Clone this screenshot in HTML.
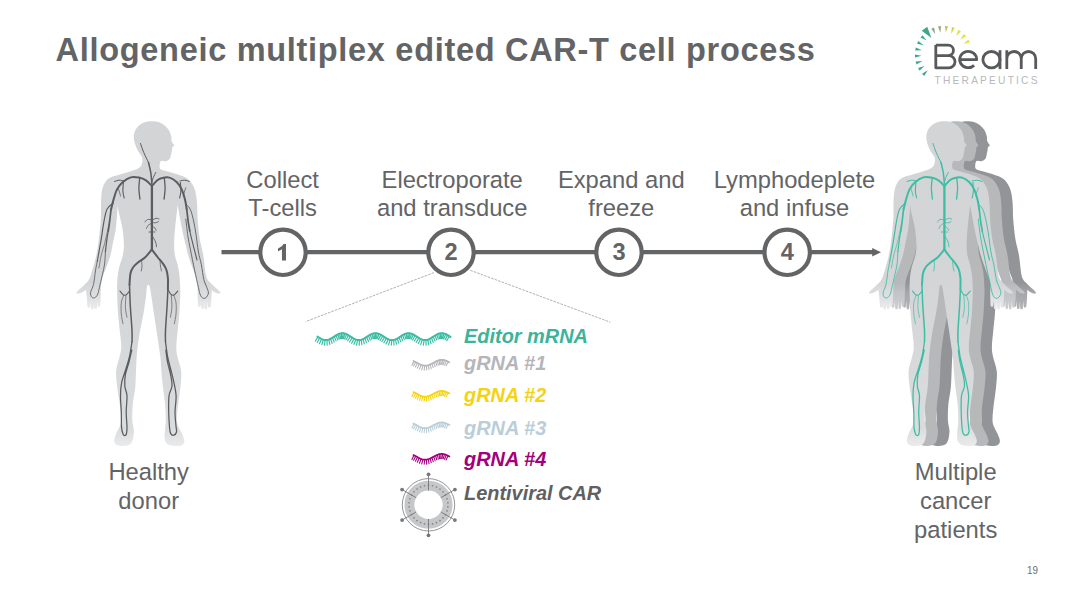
<!DOCTYPE html>
<html><head><meta charset="utf-8"><title>Allogeneic multiplex edited CAR-T cell process</title>
<style>
html,body{margin:0;padding:0;background:#fff}
#slide{position:relative;width:1088px;height:612px;overflow:hidden;background:#fff;font-family:"Liberation Sans",sans-serif;color:#636466}
.t{position:absolute;white-space:nowrap;line-height:1}
.c{position:absolute;text-align:center;font-size:23.75px;line-height:28.4px;white-space:nowrap;transform:translateX(-50%)}
.n{position:absolute;font-weight:bold;font-size:23.6px;line-height:1;transform:translateX(-50%);top:241.4px}
.r{position:absolute;left:464.1px;font-weight:bold;font-style:italic;font-size:19.9px;line-height:1;white-space:nowrap}
</style></head><body>
<div id="slide">
<svg width="1088" height="612" viewBox="0 0 1088 612" style="position:absolute;left:0;top:0"><defs><path id="body" d="M174.30,145.30C173.97,145.67 172.68,146.67 172.30,147.50C171.92,148.33 172.17,149.30 172.00,150.30C171.83,151.30 171.67,152.08 171.30,153.50C170.93,154.92 170.68,157.52 169.80,158.80C168.92,160.08 167.47,160.83 166.00,161.20C164.53,161.57 162.07,160.28 161.00,161.00C159.93,161.72 159.63,164.12 159.60,165.50C159.57,166.88 159.40,168.30 160.80,169.30C162.20,170.30 165.13,170.63 168.00,171.50C170.87,172.37 175.25,173.58 178.00,174.50C180.75,175.42 182.53,175.95 184.50,177.00C186.47,178.05 188.08,178.70 189.80,180.80C191.52,182.90 193.60,185.95 194.80,189.60C196.00,193.25 196.53,197.80 197.00,202.70C197.47,207.60 197.15,213.02 197.60,219.00C198.05,224.98 198.75,232.60 199.70,238.60C200.65,244.60 202.28,249.00 203.30,255.00C204.32,261.00 204.95,270.30 205.80,274.60C206.65,278.90 207.55,279.37 208.40,280.80C209.25,282.23 209.98,282.30 210.90,283.20C211.82,284.10 212.98,285.30 213.90,286.20C214.82,287.10 215.57,287.83 216.40,288.60C217.23,289.37 218.20,290.08 218.90,290.80C219.60,291.52 220.32,292.55 220.60,292.90C220.15,293.02 218.85,293.70 217.90,293.60C216.95,293.50 215.92,292.93 214.90,292.30C213.88,291.67 212.32,290.22 211.80,289.80C211.73,291.17 211.47,296.63 211.40,298.00C211.28,299.40 210.82,305.00 210.70,306.40C210.58,306.58 210.12,307.32 210.00,307.50C209.78,307.50 208.92,307.50 208.70,307.50C208.60,307.32 208.20,306.58 208.10,306.40C208.02,305.43 207.68,301.57 207.60,300.60C207.53,301.87 207.27,306.93 207.20,308.20C207.10,308.38 206.70,309.12 206.60,309.30C206.40,309.30 205.60,309.30 205.40,309.30C205.30,309.12 204.90,308.38 204.80,308.20C204.72,306.97 204.38,302.03 204.30,300.80C204.22,302.00 203.88,306.80 203.80,308.00C203.70,308.17 203.30,308.83 203.20,309.00C203.00,309.00 202.20,309.00 202.00,309.00C201.90,308.80 201.50,308.00 201.40,307.80C201.33,306.60 201.07,301.80 201.00,300.60C200.92,301.47 200.58,304.93 200.50,305.80C200.40,305.97 200.00,306.63 199.90,306.80C199.73,306.80 199.07,306.80 198.90,306.80C198.78,306.60 198.32,305.80 198.20,305.60C198.12,304.00 197.78,297.60 197.70,296.00C197.67,293.75 197.95,286.07 197.50,282.50C197.05,278.93 196.00,277.52 195.00,274.60C194.00,271.68 192.65,268.27 191.50,265.00C190.35,261.73 188.98,258.00 188.10,255.00C187.22,252.00 186.98,250.27 186.20,247.00C185.42,243.73 184.42,240.07 183.40,235.40C182.38,230.73 181.05,224.05 180.10,219.00C179.15,213.95 178.10,207.42 177.70,205.10C177.28,208.78 175.80,220.80 175.20,227.20C174.60,233.60 174.15,238.87 174.10,243.50C174.05,248.13 174.32,251.45 174.90,255.00C175.48,258.55 176.85,261.47 177.60,264.80C178.35,268.13 178.95,270.80 179.40,275.00C179.85,279.20 180.20,285.83 180.30,290.00C180.40,294.17 180.17,296.00 180.00,300.00C179.83,304.00 179.68,308.93 179.30,314.00C178.92,319.07 178.20,324.95 177.70,330.40C177.20,335.85 176.33,342.27 176.30,346.70C176.27,351.13 176.68,352.90 177.50,357.00C178.32,361.10 180.72,366.18 181.20,371.30C181.68,376.42 180.90,382.25 180.40,387.70C179.90,393.15 178.78,398.55 178.20,404.00C177.62,409.45 176.77,416.40 176.90,420.40C177.03,424.40 178.15,425.73 179.00,428.00C179.85,430.27 181.12,431.87 182.00,434.00C182.88,436.13 184.22,439.00 184.30,440.80C184.38,442.60 183.47,443.95 182.50,444.80C181.53,445.65 180.52,445.83 178.50,445.90C176.48,445.97 172.48,445.77 170.40,445.20C168.32,444.63 166.97,443.92 166.00,442.50C165.03,441.08 164.75,439.03 164.60,436.70C164.45,434.37 164.90,431.22 165.10,428.50C165.30,425.78 165.80,424.48 165.80,420.40C165.80,416.32 165.57,409.45 165.10,404.00C164.63,398.55 163.62,393.15 163.00,387.70C162.38,382.25 161.82,376.25 161.40,371.30C160.98,366.35 160.92,362.10 160.50,358.00C160.08,353.90 159.57,351.30 158.90,346.70C158.23,342.10 157.32,335.85 156.50,330.40C155.68,324.95 154.82,319.45 154.00,314.00C153.18,308.55 152.30,302.20 151.60,297.70C150.90,293.20 150.35,289.22 149.80,287.00C149.25,284.78 148.55,284.83 148.30,284.40C148.07,284.83 147.31,284.78 146.90,287.00C146.49,289.22 146.43,293.20 145.85,297.70C145.27,302.20 144.36,308.55 143.40,314.00C142.44,319.45 141.05,324.95 140.10,330.40C139.15,335.85 138.28,342.10 137.70,346.70C137.12,351.30 136.88,353.90 136.60,358.00C136.32,362.10 136.23,366.35 136.00,371.30C135.77,376.25 135.73,382.25 135.20,387.70C134.67,393.15 133.28,398.62 132.80,404.00C132.32,409.38 132.13,415.67 132.30,420.00C132.47,424.33 133.63,427.17 133.80,430.00C133.97,432.83 133.68,434.92 133.30,437.00C132.92,439.08 132.40,441.13 131.50,442.50C130.60,443.87 129.60,444.63 127.90,445.20C126.20,445.77 123.20,445.97 121.30,445.90C119.40,445.83 117.67,445.65 116.50,444.80C115.33,443.95 114.38,442.60 114.30,440.80C114.22,439.00 115.22,436.13 116.00,434.00C116.78,431.87 118.12,430.27 119.00,428.00C119.88,425.73 121.18,424.40 121.30,420.40C121.42,416.40 120.38,409.45 119.70,404.00C119.03,398.55 117.85,393.15 117.25,387.70C116.65,382.25 115.72,376.42 116.10,371.30C116.47,366.18 118.63,361.10 119.50,357.00C120.37,352.90 121.27,351.13 121.30,346.70C121.33,342.27 120.23,335.85 119.70,330.40C119.17,324.95 118.51,319.45 118.10,314.00C117.69,308.55 117.39,303.15 117.25,297.70C117.11,292.25 116.96,286.25 117.25,281.30C117.54,276.35 118.06,272.38 119.00,268.00C119.94,263.62 122.08,259.08 122.90,255.00C123.72,250.92 124.01,248.13 123.90,243.50C123.79,238.87 123.15,232.62 122.25,227.20C121.35,221.78 119.26,214.70 118.50,211.00C117.74,207.30 117.83,206.00 117.70,205.00C117.42,208.70 116.82,220.78 116.00,227.20C115.18,233.62 113.72,238.87 112.80,243.50C111.88,248.13 111.50,251.25 110.50,255.00C109.50,258.75 107.97,262.73 106.80,266.00C105.63,269.27 104.42,271.85 103.50,274.60C102.58,277.35 101.78,278.93 101.30,282.50C100.82,286.07 100.72,293.75 100.60,296.00C100.52,297.60 100.18,304.00 100.10,305.60C99.98,305.80 99.52,306.60 99.40,306.80C99.23,306.80 98.57,306.80 98.40,306.80C98.30,306.63 97.90,305.97 97.80,305.80C97.72,304.93 97.38,301.47 97.30,300.60C97.23,301.80 96.97,306.60 96.90,307.80C96.80,308.00 96.40,308.80 96.30,309.00C96.10,309.00 95.30,309.00 95.10,309.00C95.00,308.83 94.60,308.17 94.50,308.00C94.42,306.80 94.08,302.00 94.00,300.80C93.92,302.03 93.58,306.97 93.50,308.20C93.40,308.38 93.00,309.12 92.90,309.30C92.70,309.30 91.90,309.30 91.70,309.30C91.60,309.12 91.20,308.38 91.10,308.20C91.03,306.93 90.77,301.87 90.70,300.60C90.62,301.57 90.28,305.43 90.20,306.40C90.10,306.58 89.70,307.32 89.60,307.50C89.38,307.50 88.52,307.50 88.30,307.50C88.18,307.32 87.72,306.58 87.60,306.40C87.48,305.00 87.02,299.40 86.90,298.00C86.75,296.63 86.15,291.17 86.00,289.80C85.33,290.22 83.17,291.67 82.00,292.30C80.83,292.93 79.95,293.50 79.00,293.60C78.05,293.70 76.75,293.02 76.30,292.90C76.58,292.55 77.30,291.52 78.00,290.80C78.70,290.08 79.67,289.37 80.50,288.60C81.33,287.83 82.08,287.10 83.00,286.20C83.92,285.30 85.12,284.10 86.00,283.20C86.88,282.30 87.47,282.23 88.30,280.80C89.13,279.37 89.65,278.90 91.00,274.60C92.35,270.30 95.08,261.00 96.40,255.00C97.72,249.00 98.16,244.60 98.90,238.60C99.64,232.60 100.50,224.98 100.85,219.00C101.20,213.02 100.78,207.60 101.00,202.70C101.22,197.80 101.33,193.25 102.20,189.60C103.07,185.95 104.65,182.90 106.20,180.80C107.75,178.70 109.20,178.05 111.50,177.00C113.80,175.95 116.92,175.42 120.00,174.50C123.08,173.58 127.17,172.42 130.00,171.50C132.83,170.58 135.12,170.00 137.00,169.00C138.88,168.00 140.42,167.33 141.30,165.50C142.18,163.67 142.85,160.42 142.30,158.00C141.75,155.58 139.22,153.33 138.00,151.00C136.78,148.67 135.70,146.25 135.00,144.00C134.30,141.75 133.80,139.67 133.80,137.50C133.80,135.33 134.22,132.92 135.00,131.00C135.78,129.08 137.00,127.42 138.50,126.00C140.00,124.58 141.83,123.30 144.00,122.50C146.17,121.70 149.00,121.23 151.50,121.20C154.00,121.17 156.75,121.53 159.00,122.30C161.25,123.07 163.28,124.35 165.00,125.80C166.72,127.25 168.25,129.13 169.30,131.00C170.35,132.87 170.92,135.33 171.30,137.00C171.68,138.67 171.10,139.62 171.60,141.00C172.10,142.38 173.85,144.58 174.30,145.30Z"/><clipPath id="bc"><use href="#body"/></clipPath><linearGradient id="bg" x1="0" y1="0" x2="0" y2="1"><stop offset="0" stop-color="#d3d4d6"/><stop offset="0.5" stop-color="#d4d5d7"/><stop offset="1" stop-color="#dcddde"/></linearGradient><linearGradient id="hg" x1="0" y1="0" x2="0" y2="1"><stop offset="0" stop-color="#fff" stop-opacity="0"/><stop offset="0.4" stop-color="#fff" stop-opacity="0.18"/><stop offset="1" stop-color="#fff" stop-opacity="0.5"/></linearGradient><linearGradient id="hg2" x1="0" y1="0" x2="0" y2="1"><stop offset="0" stop-color="#fff" stop-opacity="0"/><stop offset="0.35" stop-color="#fff" stop-opacity="0.18"/><stop offset="1" stop-color="#fff" stop-opacity="0.3"/></linearGradient><linearGradient id="fg" x1="0" y1="0" x2="0" y2="1"><stop offset="0" stop-color="#fff" stop-opacity="0"/><stop offset="1" stop-color="#fff" stop-opacity="0.45"/></linearGradient></defs><g clip-path="url(#bc)"><rect x="70" y="115" width="160" height="340" fill="url(#bg)"/><rect x="70" y="282" width="36" height="29" fill="url(#hg)"/><rect x="192" y="282" width="36" height="29" fill="url(#hg)"/><rect x="105" y="428" width="90" height="20" fill="url(#fg)"/></g><g fill="none" stroke="#5b5c5f" stroke-linecap="round" stroke-linejoin="round"><path d="M140.50,143.50C141.04,145.00 142.42,149.33 143.75,152.50C145.08,155.67 147.71,160.83 148.50,162.50" stroke-width="1.0"/><path d="M148.50,162.50C148.88,164.17 150.18,168.92 150.75,172.50C151.32,176.08 151.71,182.08 151.90,184.00" stroke-width="1.5"/><path d="M151.90,182.50C152.13,181.67 152.65,179.17 153.30,177.50C153.95,175.83 155.38,173.33 155.80,172.50" stroke-width="1.0"/><path d="M151.90,187.00C151.90,197.50 151.90,239.50 151.90,250.00" stroke-width="2.3"/><path d="M151.90,186.00C150.92,185.05 148.17,181.70 146.00,180.30C143.83,178.90 141.44,178.09 138.90,177.60C136.36,177.11 133.47,176.57 130.75,177.35C128.03,178.12 124.91,180.21 122.60,182.25C120.29,184.29 118.40,186.74 116.90,189.60C115.40,192.46 114.57,196.13 113.60,199.40C112.63,202.67 111.52,207.57 111.10,209.20" stroke-width="2.0"/><path d="M111.10,209.20C110.83,211.38 109.97,218.67 109.50,222.30C109.03,225.93 108.50,229.55 108.30,231.00" stroke-width="1.7"/><path d="M108.30,231.00C108.08,232.27 107.48,235.15 107.00,238.60C106.52,242.05 105.67,249.52 105.40,251.70" stroke-width="1.2"/><path d="M105.40,251.70C105.27,253.75 105.10,260.18 104.60,264.00C104.10,267.82 103.27,270.70 102.40,274.60C101.53,278.50 100.17,284.17 99.40,287.40C98.63,290.63 98.53,292.30 97.80,294.00C97.07,295.70 96.00,297.07 95.00,297.60C94.00,298.13 92.53,298.05 91.80,297.20C91.07,296.35 90.32,294.63 90.60,292.50C90.88,290.37 92.67,288.15 93.50,284.40C94.33,280.65 94.97,273.82 95.60,270.00C96.22,266.18 96.97,262.92 97.25,261.50" stroke-width="0.85"/><path d="M97.25,261.50C97.92,257.68 100.21,245.13 101.30,238.60C102.39,232.07 102.85,227.20 103.80,222.30C104.75,217.40 105.43,212.42 107.00,209.20C108.57,205.98 112.17,204.03 113.20,203.00" stroke-width="1.15"/><path d="M109.50,222.30C108.68,225.83 105.97,238.05 104.60,243.50C103.23,248.95 102.25,250.92 101.30,255.00C100.35,259.08 99.30,265.83 98.90,268.00" stroke-width="0.7"/><path d="M151.90,186.00C152.75,185.07 155.43,181.70 157.00,180.40C158.57,179.10 159.22,178.67 161.30,178.20C163.38,177.73 166.90,176.92 169.50,177.60C172.10,178.28 174.85,180.25 176.90,182.25C178.95,184.25 180.45,186.74 181.80,189.60C183.15,192.46 184.18,196.13 185.00,199.40C185.82,202.67 186.42,207.57 186.70,209.20" stroke-width="2.0"/><path d="M186.70,209.20C186.97,211.38 187.78,218.67 188.30,222.30C188.82,225.93 189.55,229.55 189.80,231.00" stroke-width="1.7"/><path d="M189.80,231.00C189.96,231.73 190.05,232.50 190.75,235.40C191.45,238.30 192.96,244.30 194.00,248.40C195.04,252.50 196.50,258.07 197.00,260.00" stroke-width="1.1"/><path d="M185.80,219.00C186.13,221.73 187.02,230.23 187.80,235.40C188.58,240.57 189.38,244.28 190.50,250.00C191.62,255.72 193.18,263.47 194.50,269.70C195.82,275.93 197.48,283.35 198.40,287.40C199.32,291.45 199.33,292.27 200.00,294.00C200.67,295.73 201.43,297.17 202.40,297.80C203.37,298.43 204.80,298.60 205.80,297.80C206.80,297.00 208.23,294.73 208.40,293.00C208.57,291.27 207.57,289.65 206.80,287.40C206.03,285.15 204.70,283.27 203.80,279.50C202.90,275.73 202.30,269.38 201.40,264.80C200.50,260.22 199.36,257.47 198.40,252.00C197.44,246.53 196.65,238.04 195.65,232.00C194.65,225.96 193.43,219.75 192.40,215.75C191.38,211.75 190.60,209.91 189.50,208.00C188.40,206.09 186.42,204.92 185.80,204.30" stroke-width="0.9"/><path d="M139.70,178.00C139.57,179.67 138.87,184.50 138.90,188.00C138.93,191.50 139.73,197.17 139.90,199.00" stroke-width="1.3"/><path d="M123.40,182.50C123.32,183.95 122.77,188.62 122.90,191.20C123.03,193.78 123.98,196.87 124.20,198.00" stroke-width="1.1"/><path d="M124.00,181.00C123.17,180.87 120.58,180.12 119.00,180.20C117.42,180.28 115.25,181.28 114.50,181.50" stroke-width="1.0"/><path d="M118.00,187.80C118.25,188.50 119.08,190.63 119.50,192.00C119.92,193.37 120.33,195.33 120.50,196.00" stroke-width="0.8"/><path d="M164.30,178.00C164.43,179.67 165.13,184.50 165.10,188.00C165.07,191.50 164.27,197.17 164.10,199.00" stroke-width="1.3"/><path d="M180.40,182.50C180.48,183.95 181.03,188.62 180.90,191.20C180.77,193.78 179.82,196.87 179.60,198.00" stroke-width="1.1"/><path d="M179.80,181.00C180.63,180.87 183.22,180.12 184.80,180.20C186.38,180.28 188.55,181.28 189.30,181.50" stroke-width="1.0"/><path d="M185.80,187.80C185.55,188.50 184.72,190.63 184.30,192.00C183.88,193.37 183.47,195.33 183.30,196.00" stroke-width="0.8"/><path d="M151.90,220.00C151.17,219.92 148.65,219.17 147.50,219.50C146.35,219.83 145.42,221.58 145.00,222.00" stroke-width="0.9"/><path d="M151.90,223.00C151.25,223.42 148.90,224.58 148.00,225.50C147.10,226.42 146.75,228.00 146.50,228.50" stroke-width="0.8"/><path d="M151.90,220.50C152.58,220.13 154.82,218.55 156.00,218.30C157.18,218.05 158.50,218.88 159.00,219.00" stroke-width="0.9"/><path d="M151.90,222.50C152.58,222.55 154.90,222.97 156.00,222.80C157.10,222.63 158.08,221.72 158.50,221.50" stroke-width="0.8"/><path d="M149.00,232.00C149.97,232.00 153.83,232.00 154.80,232.00" stroke-width="0.9"/><path d="M151.90,235.40C152.52,236.50 154.85,240.10 155.60,242.00C156.35,243.90 156.27,246.00 156.40,246.80" stroke-width="0.9"/><path d="M151.90,226.00C152.42,226.33 154.32,227.25 155.00,228.00C155.68,228.75 155.83,230.08 156.00,230.50" stroke-width="0.8"/><path d="M151.90,249.50C150.75,250.83 147.32,255.33 145.00,257.50C142.68,259.67 139.92,260.95 138.00,262.50C136.08,264.05 134.75,265.02 133.50,266.80C132.25,268.58 131.17,270.23 130.50,273.20C129.83,276.17 129.67,282.70 129.50,284.60" stroke-width="2.0"/><path d="M129.50,284.60C129.63,288.13 129.88,298.17 130.30,305.80C130.72,313.43 131.72,324.40 132.00,330.40C132.28,336.40 132.00,339.90 132.00,341.80" stroke-width="1.5"/><path d="M132.00,341.80C131.58,344.25 130.47,352.13 129.50,356.50C128.53,360.87 127.52,363.62 126.20,368.00C124.88,372.38 122.55,378.17 121.60,382.80C120.65,387.43 120.55,390.90 120.50,395.80C120.45,400.70 121.13,407.02 121.30,412.20C121.47,417.38 121.22,423.27 121.50,426.90C121.78,430.53 122.45,432.55 123.00,434.00C123.55,435.45 124.23,435.60 124.80,435.60C125.37,435.60 126.03,435.43 126.40,434.00C126.77,432.57 127.03,430.67 127.00,427.00C126.97,423.33 126.20,417.20 126.20,412.00C126.20,406.80 127.23,400.13 127.00,395.80C126.77,391.47 125.07,389.53 124.80,386.00C124.53,382.47 124.70,378.60 125.40,374.60C126.10,370.60 127.93,366.10 129.00,362.00C130.07,357.90 131.33,352.00 131.80,350.00" stroke-width="1.25"/><path d="M151.90,249.50C152.83,250.75 155.73,254.75 157.50,257.00C159.27,259.25 161.03,260.92 162.50,263.00C163.97,265.08 165.40,267.00 166.30,269.50C167.20,272.00 167.63,274.75 167.90,278.00C168.17,281.25 167.90,287.17 167.90,289.00" stroke-width="2.0"/><path d="M167.90,289.00C167.77,291.80 167.50,298.90 167.10,305.80C166.70,312.70 165.77,324.40 165.50,330.40C165.23,336.40 165.50,339.90 165.50,341.80" stroke-width="1.5"/><path d="M165.50,341.80C165.83,344.17 166.68,351.63 167.50,356.00C168.32,360.37 169.38,363.82 170.40,368.00C171.42,372.18 172.65,376.47 173.60,381.10C174.55,385.73 175.87,390.62 176.10,395.80C176.33,400.98 175.02,407.17 175.00,412.20C174.98,417.23 175.75,422.70 176.00,426.00C176.25,429.30 176.87,430.47 176.50,432.00C176.13,433.53 174.78,434.97 173.80,435.20C172.82,435.43 171.32,434.78 170.60,433.40C169.88,432.02 169.82,430.43 169.50,426.90C169.18,423.37 168.78,417.38 168.70,412.20C168.62,407.02 168.45,400.17 169.00,395.80C169.55,391.43 171.73,389.53 172.00,386.00C172.27,382.47 171.35,378.60 170.60,374.60C169.85,370.60 168.30,366.10 167.50,362.00C166.70,357.90 166.08,352.00 165.80,350.00" stroke-width="1.25"/><path d="M129.50,291.00C129.00,291.60 127.50,293.93 126.50,294.60C125.50,295.27 124.60,295.60 123.50,295.00C122.40,294.40 120.50,291.67 119.90,291.00" stroke-width="1.1"/><path d="M123.80,295.20C123.38,296.43 121.72,299.47 121.30,302.60C120.88,305.73 121.02,310.47 121.30,314.00C121.58,317.53 122.72,322.17 123.00,323.80" stroke-width="0.7"/><path d="M126.00,295.00C125.90,297.08 125.23,303.78 125.40,307.50C125.57,311.22 126.73,315.67 127.00,317.30" stroke-width="0.7"/><path d="M167.90,289.50C168.33,290.22 169.55,292.85 170.50,293.80C171.45,294.75 172.40,295.65 173.60,295.20C174.80,294.75 177.02,291.78 177.70,291.10" stroke-width="1.1"/><path d="M173.60,295.20C174.00,296.43 175.60,299.47 176.00,302.60C176.40,305.73 176.28,310.47 176.00,314.00C175.72,317.53 174.58,322.17 174.30,323.80" stroke-width="0.7"/><path d="M171.30,295.00C171.40,297.08 172.07,303.78 171.90,307.50C171.73,311.22 170.57,315.67 170.30,317.30" stroke-width="0.7"/><path d="M141.50,260.50C141.58,261.42 142.05,264.25 142.00,266.00C141.95,267.75 141.33,270.17 141.20,271.00" stroke-width="0.8"/><path d="M160.00,260.00C160.08,261.00 160.25,264.17 160.50,266.00C160.75,267.83 161.33,270.17 161.50,271.00" stroke-width="0.8"/></g><g transform="translate(792.5,0)"><g transform="translate(23.1,0)" clip-path="url(#bc)"><rect x="70" y="115" width="160" height="340" fill="#929497"/><rect x="70" y="283" width="36" height="28" fill="url(#hg2)"/><rect x="192" y="283" width="36" height="28" fill="url(#hg2)"/></g><g transform="translate(11.7,0)" clip-path="url(#bc)"><rect x="70" y="115" width="160" height="340" fill="#b6b8ba"/><rect x="70" y="283" width="36" height="28" fill="url(#hg2)"/><rect x="192" y="283" width="36" height="28" fill="url(#hg2)"/></g><g clip-path="url(#bc)"><rect x="70" y="115" width="160" height="340" fill="url(#bg)"/><rect x="70" y="282" width="36" height="29" fill="url(#hg)"/><rect x="192" y="282" width="36" height="29" fill="url(#hg)"/><rect x="105" y="428" width="90" height="20" fill="url(#fg)"/></g><g fill="none" stroke="#3dbda4" stroke-linecap="round" stroke-linejoin="round"><path d="M140.50,143.50C141.04,145.00 142.42,149.33 143.75,152.50C145.08,155.67 147.71,160.83 148.50,162.50" stroke-width="1.0"/><path d="M148.50,162.50C148.88,164.17 150.18,168.92 150.75,172.50C151.32,176.08 151.71,182.08 151.90,184.00" stroke-width="1.5"/><path d="M151.90,182.50C152.13,181.67 152.65,179.17 153.30,177.50C153.95,175.83 155.38,173.33 155.80,172.50" stroke-width="1.0"/><path d="M151.90,187.00C151.90,197.50 151.90,239.50 151.90,250.00" stroke-width="2.3"/><path d="M151.90,186.00C150.92,185.05 148.17,181.70 146.00,180.30C143.83,178.90 141.44,178.09 138.90,177.60C136.36,177.11 133.47,176.57 130.75,177.35C128.03,178.12 124.91,180.21 122.60,182.25C120.29,184.29 118.40,186.74 116.90,189.60C115.40,192.46 114.57,196.13 113.60,199.40C112.63,202.67 111.52,207.57 111.10,209.20" stroke-width="2.0"/><path d="M111.10,209.20C110.83,211.38 109.97,218.67 109.50,222.30C109.03,225.93 108.50,229.55 108.30,231.00" stroke-width="1.7"/><path d="M108.30,231.00C108.08,232.27 107.48,235.15 107.00,238.60C106.52,242.05 105.67,249.52 105.40,251.70" stroke-width="1.2"/><path d="M105.40,251.70C105.27,253.75 105.10,260.18 104.60,264.00C104.10,267.82 103.27,270.70 102.40,274.60C101.53,278.50 100.17,284.17 99.40,287.40C98.63,290.63 98.53,292.30 97.80,294.00C97.07,295.70 96.00,297.07 95.00,297.60C94.00,298.13 92.53,298.05 91.80,297.20C91.07,296.35 90.32,294.63 90.60,292.50C90.88,290.37 92.67,288.15 93.50,284.40C94.33,280.65 94.97,273.82 95.60,270.00C96.22,266.18 96.97,262.92 97.25,261.50" stroke-width="0.85"/><path d="M97.25,261.50C97.92,257.68 100.21,245.13 101.30,238.60C102.39,232.07 102.85,227.20 103.80,222.30C104.75,217.40 105.43,212.42 107.00,209.20C108.57,205.98 112.17,204.03 113.20,203.00" stroke-width="1.15"/><path d="M109.50,222.30C108.68,225.83 105.97,238.05 104.60,243.50C103.23,248.95 102.25,250.92 101.30,255.00C100.35,259.08 99.30,265.83 98.90,268.00" stroke-width="0.7"/><path d="M151.90,186.00C152.75,185.07 155.43,181.70 157.00,180.40C158.57,179.10 159.22,178.67 161.30,178.20C163.38,177.73 166.90,176.92 169.50,177.60C172.10,178.28 174.85,180.25 176.90,182.25C178.95,184.25 180.45,186.74 181.80,189.60C183.15,192.46 184.18,196.13 185.00,199.40C185.82,202.67 186.42,207.57 186.70,209.20" stroke-width="2.0"/><path d="M186.70,209.20C186.97,211.38 187.78,218.67 188.30,222.30C188.82,225.93 189.55,229.55 189.80,231.00" stroke-width="1.7"/><path d="M189.80,231.00C189.96,231.73 190.05,232.50 190.75,235.40C191.45,238.30 192.96,244.30 194.00,248.40C195.04,252.50 196.50,258.07 197.00,260.00" stroke-width="1.1"/><path d="M185.80,219.00C186.13,221.73 187.02,230.23 187.80,235.40C188.58,240.57 189.38,244.28 190.50,250.00C191.62,255.72 193.18,263.47 194.50,269.70C195.82,275.93 197.48,283.35 198.40,287.40C199.32,291.45 199.33,292.27 200.00,294.00C200.67,295.73 201.43,297.17 202.40,297.80C203.37,298.43 204.80,298.60 205.80,297.80C206.80,297.00 208.23,294.73 208.40,293.00C208.57,291.27 207.57,289.65 206.80,287.40C206.03,285.15 204.70,283.27 203.80,279.50C202.90,275.73 202.30,269.38 201.40,264.80C200.50,260.22 199.36,257.47 198.40,252.00C197.44,246.53 196.65,238.04 195.65,232.00C194.65,225.96 193.43,219.75 192.40,215.75C191.38,211.75 190.60,209.91 189.50,208.00C188.40,206.09 186.42,204.92 185.80,204.30" stroke-width="0.9"/><path d="M139.70,178.00C139.57,179.67 138.87,184.50 138.90,188.00C138.93,191.50 139.73,197.17 139.90,199.00" stroke-width="1.3"/><path d="M123.40,182.50C123.32,183.95 122.77,188.62 122.90,191.20C123.03,193.78 123.98,196.87 124.20,198.00" stroke-width="1.1"/><path d="M124.00,181.00C123.17,180.87 120.58,180.12 119.00,180.20C117.42,180.28 115.25,181.28 114.50,181.50" stroke-width="1.0"/><path d="M118.00,187.80C118.25,188.50 119.08,190.63 119.50,192.00C119.92,193.37 120.33,195.33 120.50,196.00" stroke-width="0.8"/><path d="M164.30,178.00C164.43,179.67 165.13,184.50 165.10,188.00C165.07,191.50 164.27,197.17 164.10,199.00" stroke-width="1.3"/><path d="M180.40,182.50C180.48,183.95 181.03,188.62 180.90,191.20C180.77,193.78 179.82,196.87 179.60,198.00" stroke-width="1.1"/><path d="M179.80,181.00C180.63,180.87 183.22,180.12 184.80,180.20C186.38,180.28 188.55,181.28 189.30,181.50" stroke-width="1.0"/><path d="M185.80,187.80C185.55,188.50 184.72,190.63 184.30,192.00C183.88,193.37 183.47,195.33 183.30,196.00" stroke-width="0.8"/><path d="M151.90,220.00C151.17,219.92 148.65,219.17 147.50,219.50C146.35,219.83 145.42,221.58 145.00,222.00" stroke-width="0.9"/><path d="M151.90,223.00C151.25,223.42 148.90,224.58 148.00,225.50C147.10,226.42 146.75,228.00 146.50,228.50" stroke-width="0.8"/><path d="M151.90,220.50C152.58,220.13 154.82,218.55 156.00,218.30C157.18,218.05 158.50,218.88 159.00,219.00" stroke-width="0.9"/><path d="M151.90,222.50C152.58,222.55 154.90,222.97 156.00,222.80C157.10,222.63 158.08,221.72 158.50,221.50" stroke-width="0.8"/><path d="M149.00,232.00C149.97,232.00 153.83,232.00 154.80,232.00" stroke-width="0.9"/><path d="M151.90,235.40C152.52,236.50 154.85,240.10 155.60,242.00C156.35,243.90 156.27,246.00 156.40,246.80" stroke-width="0.9"/><path d="M151.90,226.00C152.42,226.33 154.32,227.25 155.00,228.00C155.68,228.75 155.83,230.08 156.00,230.50" stroke-width="0.8"/><path d="M151.90,249.50C150.75,250.83 147.32,255.33 145.00,257.50C142.68,259.67 139.92,260.95 138.00,262.50C136.08,264.05 134.75,265.02 133.50,266.80C132.25,268.58 131.17,270.23 130.50,273.20C129.83,276.17 129.67,282.70 129.50,284.60" stroke-width="2.0"/><path d="M129.50,284.60C129.63,288.13 129.88,298.17 130.30,305.80C130.72,313.43 131.72,324.40 132.00,330.40C132.28,336.40 132.00,339.90 132.00,341.80" stroke-width="1.5"/><path d="M132.00,341.80C131.58,344.25 130.47,352.13 129.50,356.50C128.53,360.87 127.52,363.62 126.20,368.00C124.88,372.38 122.55,378.17 121.60,382.80C120.65,387.43 120.55,390.90 120.50,395.80C120.45,400.70 121.13,407.02 121.30,412.20C121.47,417.38 121.22,423.27 121.50,426.90C121.78,430.53 122.45,432.55 123.00,434.00C123.55,435.45 124.23,435.60 124.80,435.60C125.37,435.60 126.03,435.43 126.40,434.00C126.77,432.57 127.03,430.67 127.00,427.00C126.97,423.33 126.20,417.20 126.20,412.00C126.20,406.80 127.23,400.13 127.00,395.80C126.77,391.47 125.07,389.53 124.80,386.00C124.53,382.47 124.70,378.60 125.40,374.60C126.10,370.60 127.93,366.10 129.00,362.00C130.07,357.90 131.33,352.00 131.80,350.00" stroke-width="1.25"/><path d="M151.90,249.50C152.83,250.75 155.73,254.75 157.50,257.00C159.27,259.25 161.03,260.92 162.50,263.00C163.97,265.08 165.40,267.00 166.30,269.50C167.20,272.00 167.63,274.75 167.90,278.00C168.17,281.25 167.90,287.17 167.90,289.00" stroke-width="2.0"/><path d="M167.90,289.00C167.77,291.80 167.50,298.90 167.10,305.80C166.70,312.70 165.77,324.40 165.50,330.40C165.23,336.40 165.50,339.90 165.50,341.80" stroke-width="1.5"/><path d="M165.50,341.80C165.83,344.17 166.68,351.63 167.50,356.00C168.32,360.37 169.38,363.82 170.40,368.00C171.42,372.18 172.65,376.47 173.60,381.10C174.55,385.73 175.87,390.62 176.10,395.80C176.33,400.98 175.02,407.17 175.00,412.20C174.98,417.23 175.75,422.70 176.00,426.00C176.25,429.30 176.87,430.47 176.50,432.00C176.13,433.53 174.78,434.97 173.80,435.20C172.82,435.43 171.32,434.78 170.60,433.40C169.88,432.02 169.82,430.43 169.50,426.90C169.18,423.37 168.78,417.38 168.70,412.20C168.62,407.02 168.45,400.17 169.00,395.80C169.55,391.43 171.73,389.53 172.00,386.00C172.27,382.47 171.35,378.60 170.60,374.60C169.85,370.60 168.30,366.10 167.50,362.00C166.70,357.90 166.08,352.00 165.80,350.00" stroke-width="1.25"/><path d="M129.50,291.00C129.00,291.60 127.50,293.93 126.50,294.60C125.50,295.27 124.60,295.60 123.50,295.00C122.40,294.40 120.50,291.67 119.90,291.00" stroke-width="1.1"/><path d="M123.80,295.20C123.38,296.43 121.72,299.47 121.30,302.60C120.88,305.73 121.02,310.47 121.30,314.00C121.58,317.53 122.72,322.17 123.00,323.80" stroke-width="0.7"/><path d="M126.00,295.00C125.90,297.08 125.23,303.78 125.40,307.50C125.57,311.22 126.73,315.67 127.00,317.30" stroke-width="0.7"/><path d="M167.90,289.50C168.33,290.22 169.55,292.85 170.50,293.80C171.45,294.75 172.40,295.65 173.60,295.20C174.80,294.75 177.02,291.78 177.70,291.10" stroke-width="1.1"/><path d="M173.60,295.20C174.00,296.43 175.60,299.47 176.00,302.60C176.40,305.73 176.28,310.47 176.00,314.00C175.72,317.53 174.58,322.17 174.30,323.80" stroke-width="0.7"/><path d="M171.30,295.00C171.40,297.08 172.07,303.78 171.90,307.50C171.73,311.22 170.57,315.67 170.30,317.30" stroke-width="0.7"/><path d="M141.50,260.50C141.58,261.42 142.05,264.25 142.00,266.00C141.95,267.75 141.33,270.17 141.20,271.00" stroke-width="0.8"/><path d="M160.00,260.00C160.08,261.00 160.25,264.17 160.50,266.00C160.75,267.83 161.33,270.17 161.50,271.00" stroke-width="0.8"/></g></g><line x1="221.5" y1="252.2" x2="873" y2="252.2" stroke="#636466" stroke-width="4.2"/><polygon points="872.2,247.9 881,252.2 872.2,256.5" fill="#636466"/><circle cx="283" cy="252.3" r="22.7" fill="#fff" stroke="#636466" stroke-width="4.2"/><circle cx="451" cy="252.3" r="22.7" fill="#fff" stroke="#636466" stroke-width="4.2"/><circle cx="619" cy="252.3" r="22.7" fill="#fff" stroke="#636466" stroke-width="4.2"/><circle cx="787.2" cy="252.3" r="22.7" fill="#fff" stroke="#636466" stroke-width="4.2"/><path d="M286,244.1H283.4C282.6,246 280.5,247.7 278,248.4V251.3C279.6,250.8 281,250 281.95,249V260.6H286Z" fill="#636466"/><path d="M434,272.6L305.6,321.6M470.3,270.3L610.3,322.2" stroke="#9b9c9e" stroke-width="0.8" stroke-dasharray="2.6,1.1" fill="none"/><path d="M317.50,336.57 L318.50,337.22 L319.50,337.85 L320.50,338.43 L321.50,338.95 L322.50,339.39 L323.50,339.72 L324.50,339.94 L325.50,340.04 L326.50,340.02 L327.50,339.88 L328.50,339.61 L329.50,339.24 L330.50,338.78 L331.50,338.23 L332.50,337.63 L333.50,336.99 L334.50,336.34 L335.50,335.69 L336.50,335.08 L337.50,334.52 L338.50,334.04 L339.50,333.65 L340.50,333.37 L341.50,333.20 L342.50,333.15 L343.50,333.23 L344.50,333.43 L345.50,333.74 L346.50,334.15 L347.50,334.66 L348.50,335.23 L349.50,335.85 L350.50,336.50 L351.50,337.15 L352.50,337.79 L353.50,338.38 L354.50,338.90 L355.50,339.35 L356.50,339.69 L357.50,339.92 L358.50,340.04 L359.50,340.03 L360.50,339.90 L361.50,339.65 L362.50,339.29 L363.50,338.83 L364.50,338.29 L365.50,337.69 L366.50,337.06 L367.50,336.40 L368.50,335.76 L369.50,335.14 L370.50,334.58 L371.50,334.09 L372.50,333.69 L373.50,333.39 L374.50,333.21 L375.50,333.15 L376.50,333.22 L377.50,333.40 L378.50,333.70 L379.50,334.11 L380.50,334.60 L381.50,335.17 L382.50,335.79 L383.50,336.44 L384.50,337.09 L385.50,337.73 L386.50,338.32 L387.50,338.85 L388.50,339.31 L389.50,339.66 L390.50,339.91 L391.50,340.03 L392.50,340.04 L393.50,339.92 L394.50,339.68 L395.50,339.33 L396.50,338.88 L397.50,338.35 L398.50,337.76 L399.50,337.12 L400.50,336.47 L401.50,335.82 L402.50,335.20 L403.50,334.63 L404.50,334.13 L405.50,333.72 L406.50,333.41 L407.50,333.22 L408.50,333.15 L409.50,333.20 L410.50,333.38 L411.50,333.67 L412.50,334.06 L413.50,334.55 L414.50,335.11 L415.50,335.73 L416.50,336.37 L417.50,337.02 L418.50,337.66 L419.50,338.26 L420.50,338.80 L421.50,339.26 L422.50,339.63 L423.50,339.89 L424.50,340.03 L425.50,340.04 L426.50,339.93 L427.50,339.71 L428.50,339.37 L429.50,338.93 L430.50,338.40 L431.50,337.82 L432.50,337.19 L433.50,336.53 L434.50,335.88 L435.50,335.26 L436.50,334.68 L437.50,334.18 L438.50,333.76 L439.50,333.44 L440.50,333.24 L441.50,333.15 L442.50,333.19 L443.50,333.35 L444.50,333.63 L445.50,334.02 L446.50,334.50 L447.50,335.05 L448.50,335.66 L449.50,336.31 L450.50,336.96" fill="none" stroke="#3dbda4" stroke-width="2.0" stroke-linecap="round" stroke-linejoin="round"/><path d="M318.00,336.89l-2.69,4.35M319.80,338.03l-2.55,4.47M321.60,339.00l-2.19,4.70M323.40,339.69l-1.58,4.99M325.20,340.03l-0.74,5.18M327.00,339.96l0.18,5.15M328.80,339.51l0.96,4.91M330.60,338.73l1.49,4.62M332.40,337.69l1.78,4.42M334.20,336.53l1.86,4.35M336.00,335.38l1.76,4.43M337.80,334.37l1.44,4.65M339.60,333.62l0.88,4.94M341.40,333.21l0.08,5.16M343.20,333.19l-0.84,5.17M345.00,333.57l-1.66,4.96M346.80,334.30l-2.24,4.67M348.60,335.29l-2.57,4.45M350.40,336.44l-2.69,4.35M352.20,337.60l-2.63,4.41M354.00,338.65l-2.36,4.60M355.80,339.46l-1.85,4.88M357.60,339.94l-1.09,5.13M359.40,340.04l-0.17,5.19M361.20,339.73l0.68,5.02M363.00,339.07l1.31,4.73M364.80,338.12l1.69,4.48M366.60,336.99l1.85,4.36M368.40,335.82l1.82,4.38M370.20,334.74l1.59,4.55M372.00,333.87l1.13,4.83M373.80,333.32l0.42,5.09M375.60,333.15l-0.48,5.20M377.40,333.38l-1.36,5.06M379.20,333.98l-2.04,4.78M381.00,334.88l-2.47,4.52M382.80,335.98l-2.67,4.37M384.60,337.15l-2.67,4.37M386.40,338.26l-2.49,4.51M388.20,339.18l-2.07,4.77M390.00,339.80l-1.41,5.05M391.80,340.05l-0.53,5.20M393.60,339.90l0.37,5.11M395.40,339.37l1.10,4.84M397.20,338.52l1.57,4.57M399.00,337.44l1.81,4.39M400.80,336.27l1.86,4.36M402.60,335.14l1.71,4.47M404.40,334.18l1.34,4.71M406.20,333.49l0.73,5.00M408.00,333.17l-0.12,5.19M409.80,333.24l-1.04,5.14M411.60,333.70l-1.81,4.90M413.40,334.50l-2.33,4.61M415.20,335.54l-2.62,4.41M417.00,336.70l-2.69,4.35M418.80,337.85l-2.58,4.44M420.60,338.85l-2.26,4.66M422.40,339.60l-1.70,4.95M424.20,340.00l-0.89,5.17M426.00,340.00l0.03,5.17M427.80,339.61l0.85,4.95M429.60,338.88l1.42,4.67M431.40,337.88l1.75,4.44M433.20,336.73l1.86,4.35M435.00,335.57l1.79,4.41M436.80,334.52l1.51,4.61M438.60,333.72l1.00,4.89M440.40,333.25l0.23,5.14M442.20,333.17l-0.69,5.19M444.00,333.48l-1.54,5.01M445.80,334.15l-2.16,4.72M447.60,335.11l-2.53,4.48M449.40,336.24l-2.69,4.36" fill="none" stroke="#3dbda4" stroke-width="1.2" stroke-linecap="round"/><path d="M413.40,360.93 L414.40,361.40 L415.40,361.91 L416.40,362.45 L417.40,363.00 L418.40,363.54 L419.40,364.05 L420.40,364.51 L421.40,364.90 L422.40,365.22 L423.40,365.45 L424.40,365.57 L425.40,365.60 L426.40,365.52 L427.40,365.33 L428.40,365.06 L429.40,364.70 L430.40,364.26 L431.40,363.77 L432.40,363.25 L433.40,362.70 L434.40,362.15 L435.40,361.63 L436.40,361.14 L437.40,360.70 L438.40,360.34 L439.40,360.07 L440.40,359.88 L441.40,359.80 L442.40,359.83 L443.40,359.95 L444.40,360.18 L445.40,360.50 L446.40,360.89 L447.40,361.35 L448.40,361.86 L449.40,362.40" fill="none" stroke="#b5b6b9" stroke-width="1.7" stroke-linecap="round" stroke-linejoin="round"/><path d="M413.90,361.16l-1.92,4.17M415.70,362.07l-2.11,4.05M417.50,363.06l-2.13,4.04M419.30,364.00l-1.99,4.13M421.10,364.79l-1.68,4.30M422.90,365.35l-1.18,4.49M424.70,365.59l-0.53,4.60M426.50,365.50l0.15,4.55M428.30,365.09l0.73,4.39M430.10,364.40l1.13,4.20M431.90,363.51l1.35,4.07M433.70,362.53l1.40,4.03M435.50,361.57l1.30,4.10M437.30,360.74l1.02,4.26M439.10,360.14l0.55,4.45M440.90,359.83l-0.07,4.59M442.70,359.85l-0.76,4.57M444.50,360.21l-1.36,4.43M446.30,360.85l-1.80,4.24M448.10,361.70l-2.06,4.09" fill="none" stroke="#b5b6b9" stroke-width="1.1" stroke-linecap="round"/><path d="M413.40,392.03 L414.40,392.50 L415.40,393.01 L416.40,393.55 L417.40,394.10 L418.40,394.64 L419.40,395.15 L420.40,395.61 L421.40,396.00 L422.40,396.32 L423.40,396.55 L424.40,396.67 L425.40,396.70 L426.40,396.62 L427.40,396.43 L428.40,396.16 L429.40,395.80 L430.40,395.36 L431.40,394.87 L432.40,394.35 L433.40,393.80 L434.40,393.25 L435.40,392.73 L436.40,392.24 L437.40,391.80 L438.40,391.44 L439.40,391.17 L440.40,390.98 L441.40,390.90 L442.40,390.93 L443.40,391.05 L444.40,391.28 L445.40,391.60 L446.40,391.99 L447.40,392.45 L448.40,392.96 L449.40,393.50" fill="none" stroke="#f5d312" stroke-width="1.7" stroke-linecap="round" stroke-linejoin="round"/><path d="M413.90,392.26l-1.92,4.17M415.70,393.17l-2.11,4.05M417.50,394.16l-2.13,4.04M419.30,395.10l-1.99,4.13M421.10,395.89l-1.68,4.30M422.90,396.45l-1.18,4.49M424.70,396.69l-0.53,4.60M426.50,396.60l0.15,4.55M428.30,396.19l0.73,4.39M430.10,395.50l1.13,4.20M431.90,394.61l1.35,4.07M433.70,393.63l1.40,4.03M435.50,392.67l1.30,4.10M437.30,391.84l1.02,4.26M439.10,391.24l0.55,4.45M440.90,390.93l-0.07,4.59M442.70,390.95l-0.76,4.57M444.50,391.31l-1.36,4.43M446.30,391.95l-1.80,4.24M448.10,392.80l-2.06,4.09" fill="none" stroke="#f5d312" stroke-width="1.1" stroke-linecap="round"/><path d="M413.40,423.53 L414.40,424.00 L415.40,424.51 L416.40,425.05 L417.40,425.60 L418.40,426.14 L419.40,426.65 L420.40,427.11 L421.40,427.50 L422.40,427.82 L423.40,428.05 L424.40,428.17 L425.40,428.20 L426.40,428.12 L427.40,427.93 L428.40,427.66 L429.40,427.30 L430.40,426.86 L431.40,426.37 L432.40,425.85 L433.40,425.30 L434.40,424.75 L435.40,424.23 L436.40,423.74 L437.40,423.30 L438.40,422.94 L439.40,422.67 L440.40,422.48 L441.40,422.40 L442.40,422.43 L443.40,422.55 L444.40,422.78 L445.40,423.10 L446.40,423.49 L447.40,423.95 L448.40,424.46 L449.40,425.00" fill="none" stroke="#b9ced8" stroke-width="1.7" stroke-linecap="round" stroke-linejoin="round"/><path d="M413.90,423.76l-1.92,4.17M415.70,424.67l-2.11,4.05M417.50,425.66l-2.13,4.04M419.30,426.60l-1.99,4.13M421.10,427.39l-1.68,4.30M422.90,427.95l-1.18,4.49M424.70,428.19l-0.53,4.60M426.50,428.10l0.15,4.55M428.30,427.69l0.73,4.39M430.10,427.00l1.13,4.20M431.90,426.11l1.35,4.07M433.70,425.13l1.40,4.03M435.50,424.17l1.30,4.10M437.30,423.34l1.02,4.26M439.10,422.74l0.55,4.45M440.90,422.43l-0.07,4.59M442.70,422.45l-0.76,4.57M444.50,422.81l-1.36,4.43M446.30,423.45l-1.80,4.24M448.10,424.30l-2.06,4.09" fill="none" stroke="#b9ced8" stroke-width="1.1" stroke-linecap="round"/><path d="M413.40,455.03 L414.40,455.50 L415.40,456.01 L416.40,456.55 L417.40,457.10 L418.40,457.64 L419.40,458.15 L420.40,458.61 L421.40,459.00 L422.40,459.32 L423.40,459.55 L424.40,459.67 L425.40,459.70 L426.40,459.62 L427.40,459.43 L428.40,459.16 L429.40,458.80 L430.40,458.36 L431.40,457.87 L432.40,457.35 L433.40,456.80 L434.40,456.25 L435.40,455.73 L436.40,455.24 L437.40,454.80 L438.40,454.44 L439.40,454.17 L440.40,453.98 L441.40,453.90 L442.40,453.93 L443.40,454.05 L444.40,454.28 L445.40,454.60 L446.40,454.99 L447.40,455.45 L448.40,455.96 L449.40,456.50" fill="none" stroke="#a3007d" stroke-width="1.7" stroke-linecap="round" stroke-linejoin="round"/><path d="M413.90,455.26l-1.92,4.17M415.70,456.17l-2.11,4.05M417.50,457.16l-2.13,4.04M419.30,458.10l-1.99,4.13M421.10,458.89l-1.68,4.30M422.90,459.45l-1.18,4.49M424.70,459.69l-0.53,4.60M426.50,459.60l0.15,4.55M428.30,459.19l0.73,4.39M430.10,458.50l1.13,4.20M431.90,457.61l1.35,4.07M433.70,456.63l1.40,4.03M435.50,455.67l1.30,4.10M437.30,454.84l1.02,4.26M439.10,454.24l0.55,4.45M440.90,453.93l-0.07,4.59M442.70,453.95l-0.76,4.57M444.50,454.31l-1.36,4.43M446.30,454.95l-1.80,4.24M448.10,455.80l-2.06,4.09" fill="none" stroke="#a3007d" stroke-width="1.1" stroke-linecap="round"/><circle cx="428.5" cy="504.8" r="19.1" fill="none" stroke="#c6c7c9" stroke-width="9.8"/><circle cx="428.5" cy="504.8" r="26.2" fill="none" stroke="#77787b" stroke-width="0.8"/><circle cx="447.89" cy="506.84" r="0.85" fill="#808285"/><circle cx="447.05" cy="510.83" r="0.85" fill="#808285"/><circle cx="445.39" cy="514.55" r="0.85" fill="#808285"/><circle cx="442.99" cy="517.85" r="0.85" fill="#808285"/><circle cx="439.96" cy="520.58" r="0.85" fill="#808285"/><circle cx="436.43" cy="522.61" r="0.85" fill="#808285"/><circle cx="432.55" cy="523.87" r="0.85" fill="#808285"/><circle cx="428.50" cy="524.30" r="0.85" fill="#808285"/><circle cx="424.45" cy="523.87" r="0.85" fill="#808285"/><circle cx="420.57" cy="522.61" r="0.85" fill="#808285"/><circle cx="417.04" cy="520.58" r="0.85" fill="#808285"/><circle cx="414.01" cy="517.85" r="0.85" fill="#808285"/><circle cx="411.61" cy="514.55" r="0.85" fill="#808285"/><circle cx="409.95" cy="510.83" r="0.85" fill="#808285"/><circle cx="409.11" cy="506.84" r="0.85" fill="#808285"/><circle cx="409.11" cy="502.76" r="0.85" fill="#808285"/><circle cx="409.95" cy="498.77" r="0.85" fill="#808285"/><circle cx="411.61" cy="495.05" r="0.85" fill="#808285"/><circle cx="414.01" cy="491.75" r="0.85" fill="#808285"/><circle cx="417.04" cy="489.02" r="0.85" fill="#808285"/><circle cx="420.57" cy="486.99" r="0.85" fill="#808285"/><circle cx="424.45" cy="485.73" r="0.85" fill="#808285"/><circle cx="428.50" cy="485.30" r="0.85" fill="#808285"/><circle cx="432.55" cy="485.73" r="0.85" fill="#808285"/><circle cx="436.43" cy="486.99" r="0.85" fill="#808285"/><circle cx="439.96" cy="489.02" r="0.85" fill="#808285"/><circle cx="442.99" cy="491.75" r="0.85" fill="#808285"/><circle cx="445.39" cy="495.05" r="0.85" fill="#808285"/><circle cx="447.05" cy="498.77" r="0.85" fill="#808285"/><circle cx="447.89" cy="502.76" r="0.85" fill="#808285"/><line x1="428.50" y1="490.60" x2="428.50" y2="474.30" stroke="#77787b" stroke-width="0.9"/><circle cx="428.50" cy="474.30" r="1.9" fill="#77787b"/><line x1="416.20" y1="497.70" x2="402.09" y2="489.55" stroke="#77787b" stroke-width="0.9"/><circle cx="402.09" cy="489.55" r="1.9" fill="#77787b"/><line x1="416.20" y1="511.90" x2="402.09" y2="520.05" stroke="#77787b" stroke-width="0.9"/><circle cx="402.09" cy="520.05" r="1.9" fill="#77787b"/><line x1="428.50" y1="519.00" x2="428.50" y2="535.30" stroke="#77787b" stroke-width="0.9"/><circle cx="428.50" cy="535.30" r="1.9" fill="#77787b"/><line x1="440.80" y1="511.90" x2="454.91" y2="520.05" stroke="#77787b" stroke-width="0.9"/><circle cx="454.91" cy="520.05" r="1.9" fill="#77787b"/><line x1="440.80" y1="497.70" x2="454.91" y2="489.55" stroke="#77787b" stroke-width="0.9"/><circle cx="454.91" cy="489.55" r="1.9" fill="#77787b"/><polygon points="922.00,73.84 924.16,76.06 927.81,70.35" fill="#3fa58f"/><polygon points="918.05,68.02 919.62,70.70 924.54,66.03" fill="#3fa58f"/><polygon points="915.63,61.42 916.50,64.40 922.40,61.06" fill="#3ea78f"/><polygon points="914.86,54.44 914.99,57.53 921.52,55.71" fill="#3ea78f"/><polygon points="915.80,47.47 915.18,50.51 921.96,50.32" fill="#3da98f"/><polygon points="918.39,40.94 917.06,43.73 923.68,45.18" fill="#3da98f"/><polygon points="922.49,35.22 920.51,37.61 926.59,40.62" fill="#3caa8e"/><polygon points="927.24,26.75 921.77,30.80 931.41,38.09" fill="#3aa98c"/><polygon points="934.12,27.52 931.26,28.71 935.23,34.21" fill="#8aa88a"/><polygon points="940.99,26.00 937.92,26.46 940.45,32.75" fill="#9aa77a"/><polygon points="948.01,26.17 944.93,25.88 945.86,32.60" fill="#b9c264"/><polygon points="954.79,28.03 951.86,27.00 951.15,33.75" fill="#cfd750"/><polygon points="960.92,31.47 958.33,29.77 956.01,36.14" fill="#dde048"/><polygon points="966.04,36.28 963.93,34.01 960.15,39.63" fill="#dfe23f"/><polygon points="969.85,42.19 968.35,39.48 963.32,44.02" fill="#e0e43a"/><g fill="none" stroke="#58595b" stroke-width="2.8" stroke-linejoin="round"><path d="M935.8,45.1V67.8H948.9a6.1,6.1 0 0 0 0,-12.2H935.8M935.8,55.6H948.2a5.25,5.25 0 0 0 0,-10.5H935.8"/><path d="M959.7,59.7H976.7a8.5,8.15 0 1 0 -2.6,5.7"/><ellipse cx="991.45" cy="59.65" rx="8.55" ry="8.15"/><path d="M1000,50.2V69.1"/><path d="M1006.8,50.2V69.1M1006.8,58.7a7.22,7.2 0 0 1 14.45,0V69.1M1021.25,58.7a7.22,7.2 0 0 1 14.45,0V69.1"/></g></svg>
<div class="t" style="left:55.6px;top:34.4px;font-size:32.5px;font-weight:bold;letter-spacing:0.7px;color:#636466">Allogeneic multiplex edited CAR-T cell process</div>
<div class="c" style="left:282.6px;top:165.5px">Collect<br>T-cells</div>
<div class="c" style="left:452.2px;top:165.5px">Electroporate<br>and transduce</div>
<div class="c" style="left:621.3px;top:165.5px">Expand and<br>freeze</div>
<div class="c" style="left:794.5px;top:165.5px">Lymphodeplete<br>and infuse</div>
<div class="n" style="left:451px">2</div>
<div class="n" style="left:619px">3</div>
<div class="n" style="left:787.2px">4</div>
<div class="c" style="left:148.7px;top:458.4px;line-height:28.6px">Healthy<br>donor</div>
<div class="c" style="left:955.7px;top:458.4px;line-height:28.6px">Multiple<br>cancer<br>patients</div>
<div class="r" style="top:326.5px;color:#3cb39b">Editor mRNA</div>
<div class="r" style="top:354.3px;color:#b5b6b9">gRNA #1</div>
<div class="r" style="top:386.4px;color:#f5d312">gRNA #2</div>
<div class="r" style="top:418.8px;color:#b9ced8">gRNA #3</div>
<div class="r" style="top:449.5px;color:#a3007d">gRNA #4</div>
<div class="r" style="top:484.2px;color:#5f6062">Lentiviral CAR</div>
<div class="t" style="left:934.6px;top:75.8px;font-size:10.2px;letter-spacing:2.2px;color:#b7b9bb">THERAPEUTICS</div>
<div class="t" style="left:1026.9px;top:565px;font-size:11.4px;color:#6d6e70;transform:scaleX(0.86);transform-origin:0 0">19</div>
</div>
</body></html>
